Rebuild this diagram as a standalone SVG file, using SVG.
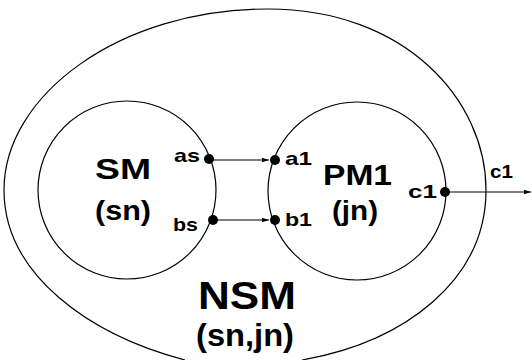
<svg xmlns="http://www.w3.org/2000/svg" width="532" height="360" viewBox="0 0 532 360">
<style>
.ln{fill:none;stroke:#000;stroke-width:1.2}
.t{font-family:"Liberation Sans",Arial,sans-serif;font-weight:bold;fill:#000}
.s{font-size:19px}
.dot{fill:#000}
</style>
<defs>
<marker id="ah" markerWidth="8" markerHeight="6" refX="7" refY="3" orient="auto" markerUnits="userSpaceOnUse">
<path d="M0,0.8 L7,3 L0,5.2 z" fill="#000"/>
</marker>
</defs>
<rect width="532" height="360" fill="#fff"/>
<g id="NSM">
<path class="ln" d="M185,360 C90,335 4,275 4,190 C4,95 120,9 268,9 C405,9 486,100 486,190 C486,280 405,342 302,360"/>
<text class="t" x="198" y="309" font-size="38" textLength="98" lengthAdjust="spacingAndGlyphs">NSM</text>
<text class="t" x="196" y="346" font-size="32" textLength="98" lengthAdjust="spacingAndGlyphs">(sn,jn)</text>
<text class="t s" x="490" y="178" textLength="23" lengthAdjust="spacingAndGlyphs">c1</text>
</g>
<g id="SM">
<circle class="ln" cx="127" cy="190" r="89"/>
<text class="t" x="95" y="179" font-size="29" textLength="56" lengthAdjust="spacingAndGlyphs">SM</text>
<text class="t" x="95" y="220" font-size="28" textLength="56" lengthAdjust="spacingAndGlyphs">(sn)</text>
<text class="t s" x="174" y="162" textLength="26" lengthAdjust="spacingAndGlyphs">as</text>
<text class="t s" x="173" y="231" textLength="25" lengthAdjust="spacingAndGlyphs">bs</text>
<circle class="dot" cx="209" cy="159" r="5"/>
<circle class="dot" cx="213" cy="220" r="5"/>
</g>
<g id="PM1">
<circle class="ln" cx="357" cy="191" r="89"/>
<text class="t" x="323" y="185" font-size="30" textLength="69" lengthAdjust="spacingAndGlyphs">PM1</text>
<text class="t" x="332" y="220" font-size="28" textLength="46" lengthAdjust="spacingAndGlyphs">(jn)</text>
<text class="t s" x="285" y="165" textLength="27" lengthAdjust="spacingAndGlyphs">a1</text>
<text class="t s" x="285" y="226" textLength="27" lengthAdjust="spacingAndGlyphs">b1</text>
<text class="t s" x="408" y="198" textLength="29" lengthAdjust="spacingAndGlyphs">c1</text>
<circle class="dot" cx="275" cy="160" r="5"/>
<circle class="dot" cx="275" cy="220" r="5"/>
<circle class="dot" cx="445" cy="192" r="5"/>
</g>
<g id="connectors">
<line class="ln" x1="209" y1="160" x2="269" y2="160" marker-end="url(#ah)"/>
<line class="ln" x1="213" y1="220" x2="269" y2="220" marker-end="url(#ah)"/>
<line class="ln" x1="445" y1="192" x2="531" y2="192" marker-end="url(#ah)"/>
</g>
</svg>
